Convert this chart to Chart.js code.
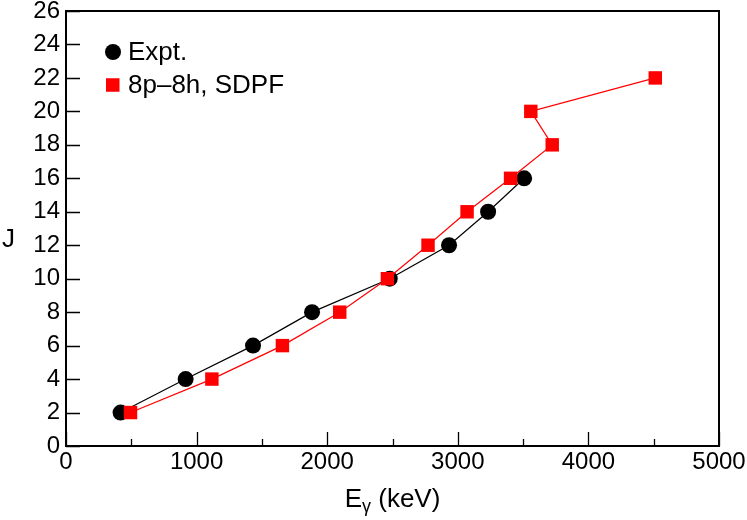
<!DOCTYPE html>
<html>
<head>
<meta charset="utf-8">
<script src="https://cdn.jsdelivr.net/npm/chart.js@4.4.0/dist/chart.umd.min.js"></script>
<style>
    html, body { margin: 0; padding: 0; background: #fff; }
    #wrap { width: 747px; height: 520px; }
</style>
</head>
<body>
<div id="wrap"><canvas id="spinChart" width="747" height="520"></canvas></div>
<script>
// spin J vs gamma energy, experiment and shell-model calc
const jExpt = [2, 4, 6, 8, 10, 12, 14, 16];
const eExpt = [418, 916, 1432, 1884, 2479, 2933, 3232, 3508];
const jCalc = [2, 4, 6, 8, 10, 12, 14, 16, 18, 20, 22];
const eCalc = [494, 1117, 1657, 2096, 2461, 2772, 3071, 3404, 3723, 3559, 4512];
const xTicks = [0, 1000, 2000, 3000, 4000, 5000];
const yTicks = [0, 2, 4, 6, 8, 10, 12, 14, 16, 18, 20, 22, 24, 26];

const FONT = '"Liberation Sans", Arial, Helvetica, sans-serif';

function toPoints(xs, ys) {
    return xs.map((x, i) => ({ x: x, y: ys[i] }));
}

// frame, inward ticks, axis titles and legend
const framePlugin = {
    id: 'frame',
    afterDraw(chart) {
        const ctx = chart.ctx;
        const area = chart.chartArea;
        const xs = chart.scales.x;
        const ys = chart.scales.y;
        ctx.save();
        ctx.strokeStyle = '#000';
        ctx.lineWidth = 2;
        ctx.strokeRect(area.left, area.top, area.right - area.left, area.bottom - area.top);

        ctx.lineWidth = 1.3;
        ctx.beginPath();
        for (let v = 0; v <= 5000; v += 500) {
            const px = Math.round(xs.getPixelForValue(v)) + 0.5;
            const len = v % 1000 === 0 ? 14 : 7;
            ctx.moveTo(px, area.bottom);
            ctx.lineTo(px, area.bottom - len);
        }
        yTicks.forEach(v => {
            const py = Math.round(ys.getPixelForValue(v)) + 0.5;
            ctx.moveTo(area.left, py);
            ctx.lineTo(area.left + 14, py);
        });
        ctx.stroke();

        // axis titles
        ctx.fillStyle = '#000';
        ctx.textBaseline = 'alphabetic';
        ctx.font = '26px ' + FONT;
        ctx.textAlign = 'left';
        ctx.fillText('J', 2, 247);

        const title = ' (keV)';
        ctx.font = '26px ' + FONT;
        const wE = ctx.measureText('E').width;
        const wT = ctx.measureText(title).width;
        ctx.font = '18px ' + FONT;
        const wG = ctx.measureText('γ').width;
        let x0 = (area.left + area.right) / 2 - (wE + wG + wT) / 2;
        ctx.font = '26px ' + FONT;
        ctx.fillText('E', x0, 507);
        ctx.font = '18px ' + FONT;
        ctx.fillText('γ', x0 + wE, 512);
        ctx.font = '26px ' + FONT;
        ctx.fillText(title, x0 + wE + wG, 507);

        // legend
        const items = chart.data.datasets.slice().sort((a, b) => a.legendRank - b.legendRank);
        items.forEach((ds, i) => {
            const cy = 52 + i * 33;
            ctx.fillStyle = ds.pointBackgroundColor;
            if (ds.pointStyle === 'rect') {
                ctx.fillRect(106, cy - 6.75, 13.5, 13.5);
            } else {
                ctx.beginPath();
                ctx.arc(113, cy, 8, 0, Math.PI * 2);
                ctx.fill();
            }
            ctx.fillStyle = '#000';
            ctx.textBaseline = 'middle';
            ctx.font = '26px ' + FONT;
            ctx.fillText(ds.label, 128, cy + 1);
        });
        ctx.restore();
    }
};

const ctx = document.getElementById('spinChart').getContext('2d');
new Chart(ctx, {
    type: 'scatter',
    data: {
        datasets: [
            {
                label: 'Expt.',
                legendRank: 0,
                data: toPoints(eExpt, jExpt),
                showLine: true,
                borderColor: '#000',
                borderWidth: 1.2,
                pointStyle: 'circle',
                pointRadius: 8,
                pointHoverRadius: 8,
                pointBackgroundColor: '#000',
                pointBorderWidth: 0,
                order: 1
            },
            {
                label: '8p\u20138h, SDPF',
                legendRank: 1,
                data: toPoints(eCalc, jCalc),
                showLine: true,
                borderColor: '#ff0000',
                borderWidth: 1.2,
                pointStyle: 'rect',
                pointRadius: 9.5,
                pointHoverRadius: 9.5,
                pointBackgroundColor: '#ff0000',
                pointBorderWidth: 0,
                order: 0
            }
        ]
    },
    options: {
        responsive: false,
        animation: false,
        devicePixelRatio: 1,
        layout: { padding: { top: 11, right: 28, left: 0, bottom: 0 } },
        plugins: {
            legend: { display: false },
            tooltip: { enabled: false }
        },
        scales: {
            x: {
                type: 'linear',
                min: 0,
                max: 5000,
                afterFit: s => { s.height = 74; s.paddingLeft = 0; s.paddingRight = 0; },
                afterBuildTicks: s => { s.ticks = xTicks.map(v => ({ value: v })); },
                ticks: {
                    color: '#000',
                    font: { family: FONT, size: 24 },
                    padding: 2,
                    maxRotation: 0,
                    autoSkip: false,
                    callback: v => String(v)
                },
                grid: { display: false, drawTicks: false },
                border: { display: false }
            },
            y: {
                min: 0,
                max: 26,
                afterFit: s => { s.width = 66; s.paddingTop = 0; s.paddingBottom = 0; },
                afterBuildTicks: s => { s.ticks = yTicks.map(v => ({ value: v })); },
                ticks: {
                    color: '#000',
                    font: { family: FONT, size: 24 },
                    padding: 6,
                    autoSkip: false,
                    callback: v => String(v)
                },
                grid: { display: false, drawTicks: false },
                border: { display: false }
            }
        }
    },
    plugins: [framePlugin]
});
</script>
</body>
</html>
